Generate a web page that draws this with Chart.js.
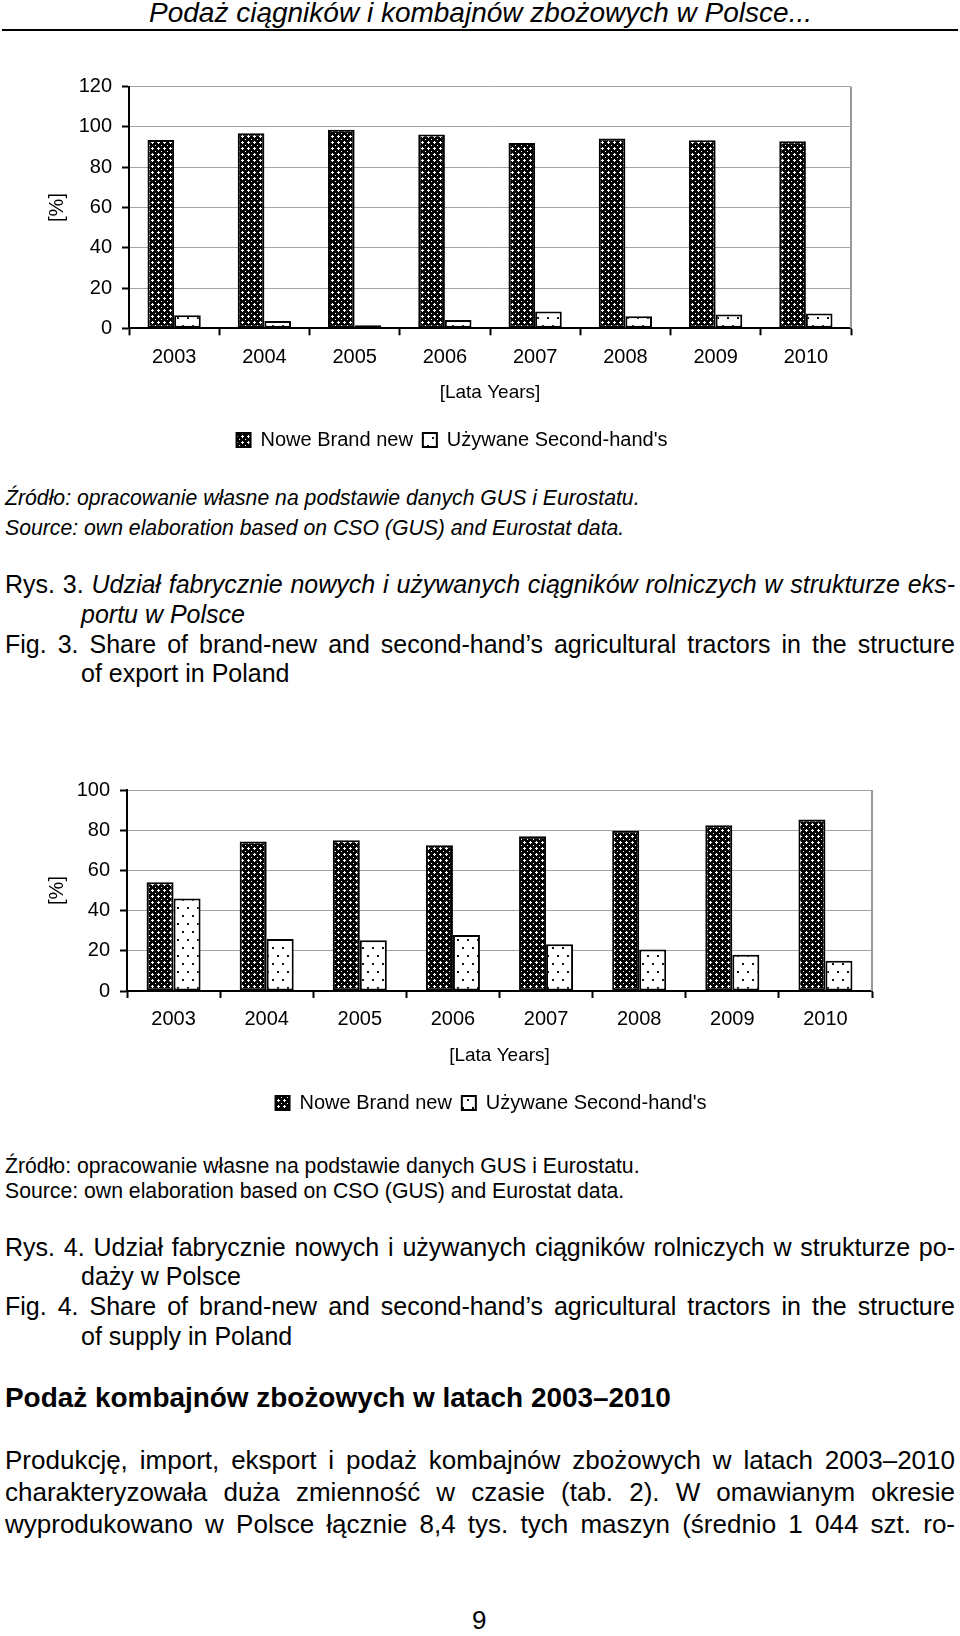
<!DOCTYPE html>
<html lang="pl">
<head>
<meta charset="UTF-8">
<title>Podaż ciągników i kombajnów</title>
<script src="https://cdn.jsdelivr.net/npm/chart.js@4.4.0/dist/chart.umd.min.js"></script>
<style>
  html, body { margin: 0; padding: 0; background: #fff; }
  body { width: 960px; height: 1636px; position: relative; overflow: hidden;
         font-family: "Liberation Sans", Arial, sans-serif; color: #000; }
  .t { position: absolute; white-space: nowrap; line-height: 1; }
  .i { font-style: italic; }
  canvas { position: absolute; left: 0; }
</style>
</head>
<body>
<div class="t i" data-w="663" style="left:149px;top:-1px;font-size:28px">Podaż ciągników i kombajnów zbożowych w Polsce...</div>
<div style="position:absolute;left:2px;top:29px;width:956px;height:2px;background:#000"></div>

<canvas id="chart1" width="960" height="420" style="top:50px"></canvas>

<div class="t i" data-w="635" style="left:5px;top:487px;font-size:21px">Źródło: opracowanie własne na podstawie danych GUS i Eurostatu.</div>
<div class="t i" style="left:5px;top:517px;font-size:21px" id="src1b">Source: own elaboration based on CSO (GUS) and Eurostat data.</div>
<div class="t j" data-w="950" style="left:5px;top:572px;font-size:25px">Rys. 3. <span class="i">Udział fabrycznie nowych i używanych ciągników rolniczych w strukturze eks-</span></div>
<div class="t i" style="left:81px;top:602px;font-size:25px">portu w Polsce</div>
<div class="t j" data-w="950" style="left:5px;top:632px;font-size:25px">Fig. 3. Share of brand-new and second-hand’s agricultural tractors in the structure</div>
<div class="t" style="left:81px;top:661px;font-size:25px">of export in Poland</div>

<canvas id="chart2" width="960" height="420" style="top:720px"></canvas>

<div class="t" data-w="635" style="left:5px;top:1155px;font-size:21px">Źródło: opracowanie własne na podstawie danych GUS i Eurostatu.</div>
<div class="t" style="left:5px;top:1180px;font-size:21px" id="src2b">Source: own elaboration based on CSO (GUS) and Eurostat data.</div>
<div class="t j" data-w="950" style="left:5px;top:1235px;font-size:25px">Rys. 4. Udział fabrycznie nowych i używanych ciągników rolniczych w strukturze po-</div>
<div class="t" style="left:81px;top:1264px;font-size:25px">daży w Polsce</div>
<div class="t j" data-w="950" style="left:5px;top:1294px;font-size:25px">Fig. 4. Share of brand-new and second-hand’s agricultural tractors in the structure</div>
<div class="t" style="left:81px;top:1324px;font-size:25px">of supply in Poland</div>

<div class="t" data-w="666" style="left:5px;top:1384px;font-size:28px;font-weight:bold">Podaż kombajnów zbożowych w latach 2003–2010</div>
<div class="t j" data-w="950" style="left:5px;top:1447px;font-size:26px">Produkcję, import, eksport i podaż kombajnów zbożowych w latach 2003–2010</div>
<div class="t j" data-w="950" style="left:5px;top:1479px;font-size:26px">charakteryzowała duża zmienność w czasie (tab. 2). W omawianym okresie</div>
<div class="t j" data-w="950" style="left:5px;top:1511px;font-size:26px">wyprodukowano w Polsce łącznie 8,4 tys. tych maszyn (średnio 1 044 szt. ro-</div>
<div class="t" style="left:472px;top:1607px;font-size:26px">9</div>

<script>
// data
const years = ['2003', '2004', '2005', '2006', '2007', '2008', '2009', '2010'];
const exportNew = [93.5, 96.9, 98.6, 96.3, 92.0, 94.3, 93.4, 92.9];
const exportUsed = [6.5, 3.6, 1.5, 4.1, 8.3, 6.0, 6.9, 7.3];
const supplyNew = [54.1, 74.4, 75.0, 72.5, 77.0, 79.7, 82.5, 85.3];
const supplyUsed = [46.0, 25.9, 25.3, 27.8, 23.3, 20.6, 18.0, 15.0];
const seriesNames = ['Nowe Brand new', "Używane Second-hand's"];
const yTitle = '[%]';
const xTitle = '[Lata Years]';
const yMax1 = 120;
const yMax2 = 100;
const yStep = 20;

// fit text lines to their measured widths
const srcSize = [];
document.querySelectorAll('[data-w]').forEach(el => {
    const w = +el.dataset.w;
    const nat = el.getBoundingClientRect().width;
    if (el.classList.contains('j')) {
        const gaps = (el.textContent.match(/ /g) || []).length;
        el.style.wordSpacing = ((w - nat) / gaps) + 'px';
    } else {
        const fs = parseFloat(el.style.fontSize);
        el.style.fontSize = (fs * w / nat) + 'px';
        if (w === 635) srcSize.push(el.style.fontSize);
    }
});
document.getElementById('src1b').style.fontSize = srcSize[0];
document.getElementById('src2b').style.fontSize = srcSize[1];

function hatch() {
    const c = document.createElement('canvas');
    c.width = 6; c.height = 6;
    const g = c.getContext('2d');
    g.fillStyle = '#000';
    g.fillRect(0, 0, 6, 6);
    g.fillStyle = '#fff';
    [[2, 1], [1, 2], [2, 2], [3, 2], [2, 3], [5, 5]].forEach(p => g.fillRect(p[0], p[1], 1, 1));
    return g.createPattern(c, 'repeat');
}
function dots() {
    const c = document.createElement('canvas');
    c.width = 10; c.height = 16;
    const g = c.getContext('2d');
    g.fillStyle = '#fff';
    g.fillRect(0, 0, 10, 16);
    g.fillStyle = '#111';
    g.fillRect(2, 3, 2, 2);
    g.fillRect(7, 11, 2, 2);
    return g.createPattern(c, 'repeat');
}

// grey right edge of the plot frame, and legend centring
const frame = {
    id: 'frame',
    afterLayout(chart) {
        const L = chart.legend;
        const target = chart.options.plugins.frame.legendX;
        if (L && target) {
            const dx = target - (L.left + L.right) / 2;
            L.left += dx;
            L.right += dx;
        }
    },
    beforeDatasetsDraw(chart) {
        const {ctx, chartArea: a} = chart;
        ctx.save();
        ctx.strokeStyle = '#999';
        ctx.lineWidth = 2;
        ctx.beginPath();
        ctx.moveTo(a.right, a.top);
        ctx.lineTo(a.right, a.bottom);
        ctx.stroke();
        ctx.restore();
    }
};

Chart.defaults.font.family = '"Liberation Sans", Arial, sans-serif';
Chart.defaults.font.size = 20;
Chart.defaults.color = '#000';

function makeChart(id, newVals, usedVals, yMax, g) {
    const ctx = document.getElementById(id).getContext('2d');
    return new Chart(ctx, {
        type: 'bar',
        data: {
            labels: years,
            datasets: [
                { label: seriesNames[0], data: newVals, backgroundColor: hatch(),
                  borderColor: '#000', borderWidth: 2, borderSkipped: false },
                { label: seriesNames[1], data: usedVals, backgroundColor: dots(),
                  borderColor: '#000', borderWidth: 2, borderSkipped: false }
            ]
        },
        options: {
            responsive: false,
            animation: false,
            events: [],
            categoryPercentage: g.cat,
            barPercentage: 1.0,
            layout: { padding: g.pad },
            plugins: {
                frame: { legendX: g.legendX },
                legend: {
                    position: 'bottom',
                    labels: { boxWidth: 14, boxHeight: 14, padding: 10, color: '#000' }
                },
                tooltip: { enabled: false }
            },
            scales: {
                x: {
                    grid: { drawOnChartArea: false, tickLength: 7, tickColor: '#000', tickWidth: 2 },
                    border: { color: '#000', width: 2 },
                    ticks: { padding: g.xPad, maxRotation: 0 },
                    title: { display: true, text: xTitle, font: { size: 19 }, padding: { top: 0, bottom: g.xTitlePad } },
                    afterFit: s => { s.height = g.xH; }
                },
                y: {
                    min: 0, max: yMax,
                    grid: { color: c => c.tick && c.tick.value === 0 ? 'rgba(0,0,0,0)' : '#a3a3a3',
                            lineWidth: 1, tickLength: 7, tickColor: '#000', tickWidth: 2 },
                    border: { color: '#000', width: 2 },
                    ticks: { stepSize: yStep, padding: 10 },
                    title: { display: true, text: yTitle, font: { size: 20 }, padding: { top: g.yTitlePad, bottom: 0 } },
                    afterFit: s => { s.width = g.yW; }
                }
            }
        },
        plugins: [frame]
    });
}

makeChart('chart1', exportNew, exportUsed, yMax1, {
    cat: 0.59, pad: { left: 53, right: 109, top: 36.7, bottom: 10 },
    yW: 76, xH: 91.7, xPad: 10, xTitlePad: 16, yTitlePad: -8, legendX: 452
});
makeChart('chart2', supplyNew, supplyUsed, yMax2, {
    cat: 0.58, pad: { left: 53, right: 88, top: 70, bottom: 17 },
    yW: 74, xH: 92, xPad: 9, xTitlePad: 16, yTitlePad: -8, legendX: 491
});
</script>
</body>
</html>
